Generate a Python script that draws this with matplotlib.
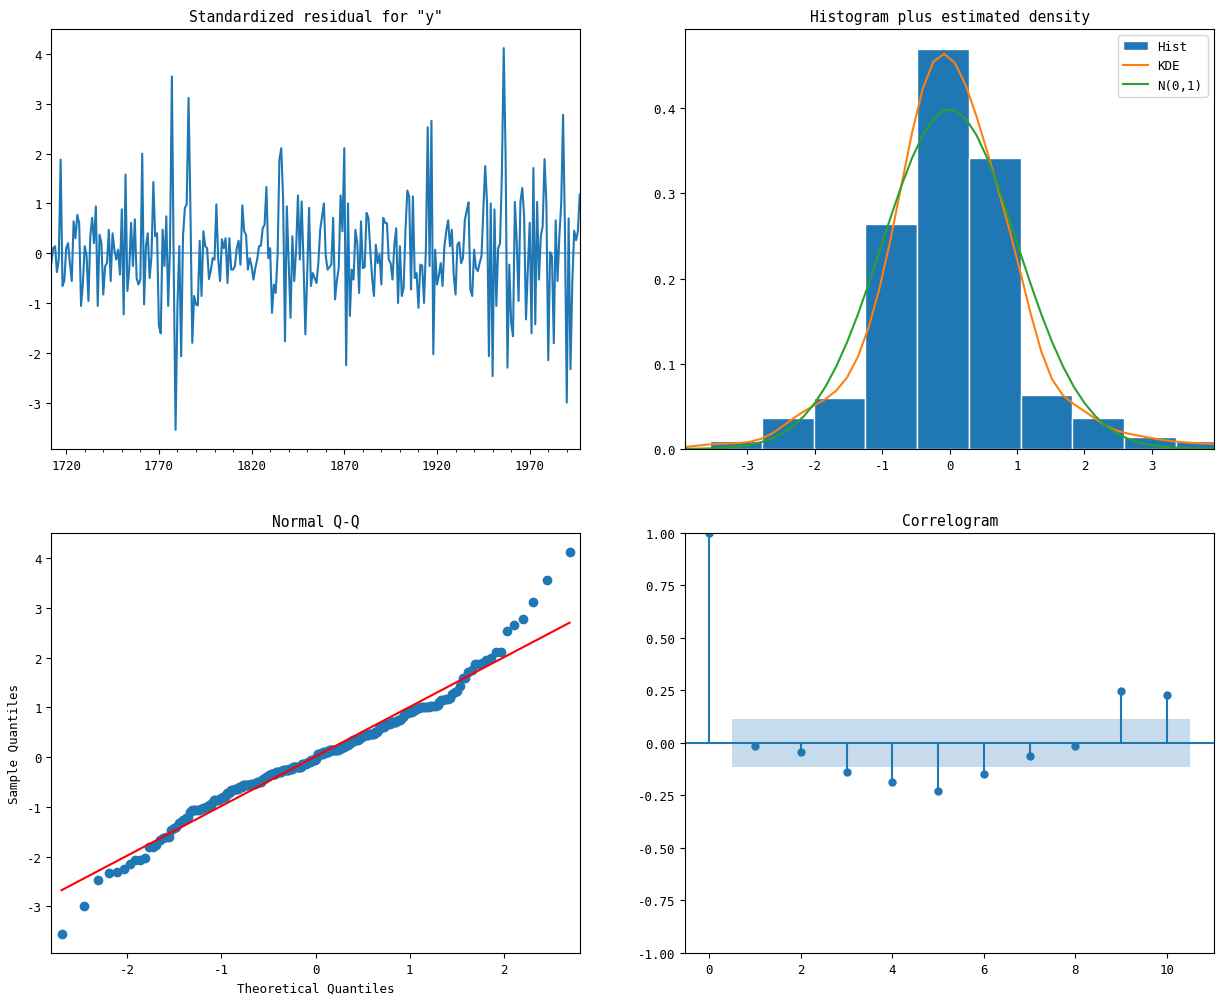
import numpy as np
import matplotlib
matplotlib.use("Agg")
import matplotlib.pyplot as plt
from matplotlib.ticker import FixedLocator
from statistics import NormalDist

plt.rcParams['font.family'] = ['DejaVu Sans Mono']
plt.rcParams['axes.unicode_minus'] = False
plt.rcParams['font.size'] = 9

# standardized residuals, one per year starting 1712
start_year = 1712
resid = np.array([
    -0.2, 0.1, 0.14, -0.38, -0.12, 1.88, -0.66, -0.55,
    0.1, 0.2, -0.2, -0.56, 0.64, 0.3, 0.77, 0.6, -1.06, -0.6,
    0.14, -0.05, -0.96, 0.34, 0.71, 0.2, 0.94, -1.06, 0.37, 0.2,
    -0.83, -0.26, -0.2, 0.47, -0.56, 0.4, 0.07, -0.13, 0.07, -0.43,
    0.88, -1.23, 1.58, -0.76, -0.33, 0.61, -0.26, 0.68, -0.5, -0.63,
    -0.53, 2.0, -1.03, 0.14, 0.4, -0.5, -0.06, 1.43, 0.34, 0.4,
    -1.46, -1.61, 0.47, -0.26, 0.74, -1.06, 0.14, 3.55, -0.3, -3.55,
    -1.06, 0.14, -2.07, 0.34, 0.91, 0.98, 3.12, 0.9, -1.8, -0.86,
    -1.03, -1.05, 0.25, -0.86, 0.44, 0.14, 0.1, -0.52, -0.35, -0.1,
    -0.13, 0.98, -0.13, -0.56, 0.28, 0.1, 0.3, -0.6, 0.3, -0.33,
    -0.33, -0.26, 0.1, 0.25, -0.23, 0.96, 0.44, 0.37, -0.33, -0.1,
    -0.26, -0.53, -0.3, -0.13, 0.14, 0.15, 0.5, 0.57, 1.33, -0.1,
    0.1, -1.2, -0.63, -0.8, -0.06, 1.88, 2.11, 1.1, -1.77, 0.94,
    -0.2, -1.3, 0.34, -0.56, 0.07, 1.16, -0.13, 1.04, -0.2, -1.63,
    -0.42, 0.91, -0.66, -0.4, -0.5, -0.6, -0.2, 0.47, 0.74, 1.0,
    -0.06, -0.33, -0.28, -0.23, 0.71, -0.93, -0.55, -0.3, 1.16, 0.44,
    2.11, -2.25, 1.0, -1.26, -0.33, -0.53, 0.47, 0.2, -0.8, 0.64,
    -0.3, -0.28, 0.81, 0.71, 0.07, -0.5, -0.86, 0.17, -0.2, -0.03,
    -0.63, 0.71, 0.61, 0.6, -0.13, -0.2, -0.53, 0.17, 0.5, -1.0,
    0.14, -0.86, -0.7, 0.47, 1.26, 1.14, -0.73, 1.14, -0.5, -0.4,
    -1.1, -0.23, -0.25, -1.0, 0.07, 2.53, -0.26, 2.66, -2.03, 0.07,
    -0.63, -0.45, -0.2, -0.66, 0.14, 0.44, 0.66, 0.14, 0.47, -0.43,
    -0.83, 0.17, 0.22, -0.2, -0.1, 0.66, 0.85, 1.02, -0.73, -0.86,
    0.07, -0.3, -0.36, -0.2, -0.06, 0.88, 1.75, 1.0, -2.07, 1.0,
    -2.47, 0.88, -1.06, 0.1, 0.2, 1.6, 4.12, 1.95, -2.3, -0.23,
    -1.4, -1.67, 1.03, 0.24, -0.96, 1.03, 1.31, 0.74, -1.33, -0.3,
    0.61, -1.61, 1.71, -1.43, 1.03, -0.53, 0.34, 0.54, 1.89, 1.0,
    -2.15, 0.02, -0.06, -1.81, 0.66, -0.56, 0.34, 1.0, 2.78, 0.5,
    -3.0, 0.7, -2.33, -0.55, 0.45, 0.26, 0.44, 1.18,
])
years = np.arange(start_year, start_year + len(resid))

# autocorrelation
acf_lags = np.arange(0, 11)
acf_vals = [1.0, -0.013, -0.045, -0.137, -0.188, -0.227, -0.149, -0.064, -0.016, 0.246, 0.227]

fig = plt.figure(figsize=(12.23, 10.03), dpi=100)
axes = fig.subplots(2, 2)
fig.subplots_adjust(left=0.042, right=0.9925, top=0.9701, bottom=0.0489,
                    wspace=0.2, hspace=0.2)

# 1. 标准化残差
ax = axes[0, 0]
ax.plot(years, resid)
ax.hlines(0, years[0], years[-1], alpha=0.5)
ax.set_xlim(years[0], years[-1])
ax.xaxis.set_major_locator(FixedLocator(np.arange(1720, years[-1] + 1, 50)))
ax.xaxis.set_minor_locator(FixedLocator(np.arange(1720, years[-1] + 1, 10)))
ax.set_title('Standardized residual for "y"', fontsize=10.5)

# 2. 直方图 + 密度
ax = axes[0, 1]
ax.hist(resid, density=True, label='Hist', edgecolor='#FFFFFF')
xlim = (-1.96 * 2, 1.96 * 2)
x = np.linspace(xlim[0], xlim[1])
n = len(resid)
bw = resid.std(ddof=1) * n ** (-1 / 5)
kde = np.exp(-0.5 * ((x[:, None] - resid[None, :]) / bw) ** 2).sum(axis=1) / (n * bw * np.sqrt(2 * np.pi))
ax.plot(x, kde, label='KDE')
ax.plot(x, np.exp(-x ** 2 / 2) / np.sqrt(2 * np.pi), label='N(0,1)')
ax.set_xlim(xlim)
ax.legend()
ax.set_title('Histogram plus estimated density', fontsize=10.5)

# 3. Q-Q 图
ax = axes[1, 0]
nd = NormalDist()
theo = np.array([nd.inv_cdf(i / (n + 1)) for i in range(1, n + 1)])
sample = np.sort(resid)
ax.plot(theo, sample, marker='o', markerfacecolor='C0', markeredgecolor='C0', linestyle='none')
ax.plot(theo, sample.std() * theo + sample.mean(), 'r')
ax.set_xmargin(0.02)
ax.set_xlabel('Theoretical Quantiles')
ax.set_ylabel('Sample Quantiles')
ax.set_title('Normal Q-Q', fontsize=10.5)

# 4. 自相关图
ax = axes[1, 1]
conf = 1.96 / np.sqrt(n)
ax.vlines(acf_lags, [0], acf_vals)
ax.axhline(0)
ax.plot(acf_lags, acf_vals, marker='o', markersize=5, linestyle='None')
band_x = acf_lags[1:].astype(float)
band_x[0] -= 0.5
band_x[-1] += 0.5
ax.fill_between(band_x, -conf, conf, alpha=0.25)
ax.set_ylim(-1, 1)
ax.set_title('Correlogram', fontsize=10.5)

fig.savefig('out.png', dpi=100)
